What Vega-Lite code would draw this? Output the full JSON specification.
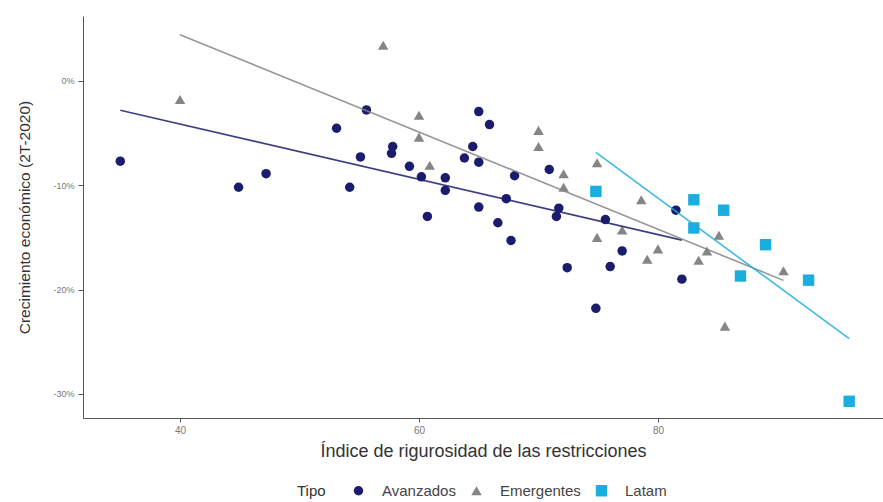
{
  "$schema": "https://vega.github.io/schema/vega-lite/v6.json",
  "width": 800,
  "height": 402,
  "autosize": {"type": "none"},
  "padding": {"left": 83, "top": 16, "right": 0, "bottom": 84},
  "background": "white",
  "config": {
    "font": "Liberation Sans",
    "view": {"stroke": null},
    "axis": {"grid": false, "domainColor": "#555555", "tickColor": "#555555", "labelColor": "#777777", "titleColor": "#333333", "titleFontWeight": "normal"}
  },
  "data": {
    "values": [
      {"x": 35.0, "y": -7.7, "Tipo": "Avanzados"},
      {"x": 44.9, "y": -10.2, "Tipo": "Avanzados"},
      {"x": 47.2, "y": -8.9, "Tipo": "Avanzados"},
      {"x": 53.1, "y": -4.55, "Tipo": "Avanzados"},
      {"x": 55.6, "y": -2.8, "Tipo": "Avanzados"},
      {"x": 55.1, "y": -7.3, "Tipo": "Avanzados"},
      {"x": 54.2, "y": -10.2, "Tipo": "Avanzados"},
      {"x": 57.8, "y": -6.3, "Tipo": "Avanzados"},
      {"x": 57.7, "y": -6.95, "Tipo": "Avanzados"},
      {"x": 59.2, "y": -8.2, "Tipo": "Avanzados"},
      {"x": 60.2, "y": -9.2, "Tipo": "Avanzados"},
      {"x": 62.2, "y": -9.3, "Tipo": "Avanzados"},
      {"x": 62.2, "y": -10.5, "Tipo": "Avanzados"},
      {"x": 65.0, "y": -2.95, "Tipo": "Avanzados"},
      {"x": 65.9, "y": -4.2, "Tipo": "Avanzados"},
      {"x": 64.5, "y": -6.3, "Tipo": "Avanzados"},
      {"x": 63.8, "y": -7.4, "Tipo": "Avanzados"},
      {"x": 65.0, "y": -7.8, "Tipo": "Avanzados"},
      {"x": 70.9, "y": -8.5, "Tipo": "Avanzados"},
      {"x": 68.0, "y": -9.1, "Tipo": "Avanzados"},
      {"x": 67.3, "y": -11.3, "Tipo": "Avanzados"},
      {"x": 65.0, "y": -12.1, "Tipo": "Avanzados"},
      {"x": 71.7, "y": -12.2, "Tipo": "Avanzados"},
      {"x": 60.7, "y": -13.0, "Tipo": "Avanzados"},
      {"x": 66.6, "y": -13.6, "Tipo": "Avanzados"},
      {"x": 67.7, "y": -15.3, "Tipo": "Avanzados"},
      {"x": 71.5, "y": -13.0, "Tipo": "Avanzados"},
      {"x": 72.4, "y": -17.9, "Tipo": "Avanzados"},
      {"x": 74.8, "y": -21.8, "Tipo": "Avanzados"},
      {"x": 81.5, "y": -12.4, "Tipo": "Avanzados"},
      {"x": 75.6, "y": -13.3, "Tipo": "Avanzados"},
      {"x": 77.0, "y": -16.3, "Tipo": "Avanzados"},
      {"x": 76.0, "y": -17.8, "Tipo": "Avanzados"},
      {"x": 82.0, "y": -19.0, "Tipo": "Avanzados"},
      {"x": 40.0, "y": -1.8, "Tipo": "Emergentes"},
      {"x": 57.0, "y": 3.4, "Tipo": "Emergentes"},
      {"x": 60.0, "y": -3.3, "Tipo": "Emergentes"},
      {"x": 60.0, "y": -5.4, "Tipo": "Emergentes"},
      {"x": 60.9, "y": -8.1, "Tipo": "Emergentes"},
      {"x": 70.0, "y": -4.75, "Tipo": "Emergentes"},
      {"x": 70.0, "y": -6.3, "Tipo": "Emergentes"},
      {"x": 72.1, "y": -8.9, "Tipo": "Emergentes"},
      {"x": 72.1, "y": -10.2, "Tipo": "Emergentes"},
      {"x": 74.9, "y": -7.85, "Tipo": "Emergentes"},
      {"x": 74.9, "y": -15.0, "Tipo": "Emergentes"},
      {"x": 78.6, "y": -11.4, "Tipo": "Emergentes"},
      {"x": 77.0, "y": -14.3, "Tipo": "Emergentes"},
      {"x": 80.0, "y": -16.1, "Tipo": "Emergentes"},
      {"x": 79.1, "y": -17.1, "Tipo": "Emergentes"},
      {"x": 85.1, "y": -14.8, "Tipo": "Emergentes"},
      {"x": 84.1, "y": -16.3, "Tipo": "Emergentes"},
      {"x": 83.4, "y": -17.2, "Tipo": "Emergentes"},
      {"x": 90.5, "y": -18.2, "Tipo": "Emergentes"},
      {"x": 85.6, "y": -23.5, "Tipo": "Emergentes"},
      {"x": 74.8, "y": -10.6, "Tipo": "Latam"},
      {"x": 83.0, "y": -11.4, "Tipo": "Latam"},
      {"x": 85.5, "y": -12.4, "Tipo": "Latam"},
      {"x": 83.0, "y": -14.1, "Tipo": "Latam"},
      {"x": 89.0, "y": -15.7, "Tipo": "Latam"},
      {"x": 86.9, "y": -18.7, "Tipo": "Latam"},
      {"x": 92.6, "y": -19.1, "Tipo": "Latam"},
      {"x": 96.0, "y": -30.7, "Tipo": "Latam"}
    ]
  },
  "encoding": {
    "x": {
      "field": "x", "type": "quantitative",
      "scale": {"domain": [31.88, 98.83], "nice": false, "zero": false},
      "axis": {"values": [40, 60, 80], "title": "Índice de rigurosidad de las restricciones", "titleFontSize": 18, "titlePadding": 7, "labelFontSize": 10, "tickSize": 4, "labelPadding": 3}
    },
    "y": {
      "field": "y", "type": "quantitative",
      "scale": {"domain": [-32.3, 6.2], "nice": false, "zero": false},
      "axis": {"values": [0, -10, -20, -30], "labelExpr": "datum.value + '%'", "title": "Crecimiento económico (2T-2020)", "titleFontSize": 15.5, "titlePadding": 20, "labelFontSize": 9, "tickSize": 5, "labelPadding": 4}
    },
    "color": {
      "field": "Tipo", "type": "nominal",
      "scale": {"domain": ["Avanzados", "Emergentes", "Latam"], "range": ["#1c1c6e", "#858585", "#1aaee0"]},
      "legend": {"orient": "none", "legendX": 214, "legendY": 467, "direction": "horizontal", "titleOrient": "left", "title": "Tipo", "titleFontSize": 15, "titleFontWeight": "normal", "titleColor": "#333333", "labelFontSize": 15, "labelColor": "#444444", "symbolSize": 90, "labelOffset": 16, "columnPadding": 13, "titlePadding": 25, "symbolStrokeWidth": 0}
    }
  },
  "layer": [
    {
      "mark": {"type": "point", "filled": true, "opacity": 1},
      "encoding": {
        "shape": {
          "field": "Tipo", "type": "nominal",
          "scale": {"domain": ["Avanzados", "Emergentes", "Latam"], "range": ["circle", "triangle-up", "square"]}
        },
        "size": {
          "field": "Tipo", "type": "nominal",
          "scale": {"domain": ["Avanzados", "Emergentes", "Latam"], "range": [90, 130, 95]}
        }
      }
    },
    {
      "transform": [{"regression": "y", "on": "x", "groupby": ["Tipo"], "method": "linear"}],
      "mark": {"type": "line", "strokeWidth": 1.6, "opacity": 0.85},
      "encoding": {}
    }
  ]
}
